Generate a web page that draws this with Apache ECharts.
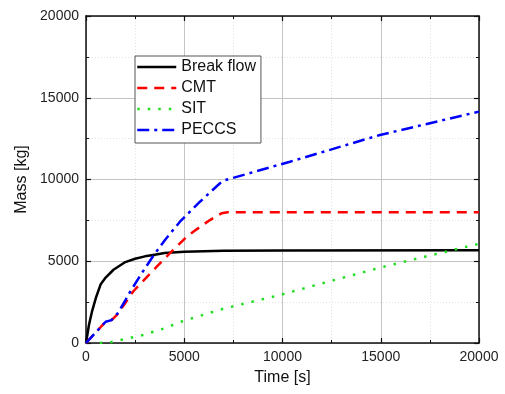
<!DOCTYPE html>
<html>
<head>
<meta charset="utf-8">
<script src="https://cdn.jsdelivr.net/npm/echarts@6/dist/echarts.min.js"></script>
<style>
  html, body { margin: 0; padding: 0; background: #fff; }
  #chart { width: 505px; height: 394px; }
</style>
</head>
<body>
<div id="chart"></div>
<script>
// Mass delivered by each path over time: [time (s), mass (kg)]
const breakFlow = [
  [0, 0], [150, 1100], [300, 1900], [500, 2750], [750, 3600], [1000, 4000],
  [1400, 4480], [2000, 4950], [2500, 5150], [3000, 5300], [3500, 5400],
  [4000, 5500], [5000, 5580], [7000, 5640], [10000, 5660], [20000, 5670]
];
const cmt = [
  [0, 0], [500, 650], [1000, 1300], [1300, 1400], [1600, 1750], [2000, 2450],
  [2400, 3150], [3600, 4670], [4440, 5690], [5125, 6500], [5460, 6810],
  [6310, 7520], [6900, 7930], [7200, 8000], [20000, 8000]
];
const sit = [
  [700, 0], [1300, 60], [2000, 250], [2900, 490], [4000, 900], [4950, 1350],
  [7000, 2100], [9870, 2935], [12330, 3750], [15000, 4620], [17500, 5350], [20000, 6070]
];
const peccs = [
  [0, 0], [500, 650], [1000, 1300], [1300, 1400], [1600, 1800], [2000, 2600],
  [2200, 3040], [2800, 4200], [3450, 5380], [4020, 6300], [4780, 7420],
  [5800, 8640], [6820, 9770], [7050, 9950], [10380, 11090], [14960, 12720], [20000, 14150]
];
const seriesNames = ['Break flow', 'CMT', 'SIT', 'PECCS'];
const xTicks = { min: 0, max: 20000, interval: 5000 };
const yTicks = { min: 0, max: 20000, interval: 5000 };

const font = 'Liberation Sans, Arial, sans-serif';

function mainAxis(t, name, extra) {
  return Object.assign({
    type: 'value', min: t.min, max: t.max, interval: t.interval,
    name: name, nameLocation: 'middle',
    nameTextStyle: { fontFamily: font, fontSize: 16, color: '#111' },
    axisLine: { show: true, onZero: false, lineStyle: { color: '#111', width: 1.5 } },
    axisTick: { show: true, inside: true, length: 5, lineStyle: { color: '#111', width: 1.2 } },
    minorTick: { show: true, splitNumber: 2, length: 3, lineStyle: { color: '#111', width: 1 } },
    axisLabel: { fontFamily: font, fontSize: 14, color: '#222', margin: 7,
                 formatter: function (v) { return String(v); } },
    splitLine: { show: true, lineStyle: { color: '#c4c4c4', width: 1 } },
    minorSplitLine: { show: true, lineStyle: { color: '#e2e2e2', width: 1, type: [1, 2] } }
  }, extra);
}
function mirrorAxis(t, position) {
  return {
    type: 'value', min: t.min, max: t.max, interval: t.interval, position: position,
    axisLine: { show: true, onZero: false, lineStyle: { color: '#111', width: 1.5 } },
    axisTick: { show: true, inside: true, length: 5, lineStyle: { color: '#111', width: 1.2 } },
    minorTick: { show: true, splitNumber: 2, length: 3, lineStyle: { color: '#111', width: 1 } },
    axisLabel: { show: false },
    splitLine: { show: false }
  };
}

function lineSeries(name, data, color, type) {
  return {
    name: name, type: 'line', data: data, showSymbol: false, symbol: 'none', symbolSize: 0,
    smooth: false, xAxisIndex: 0, yAxisIndex: 0,
    lineStyle: { color: color, width: 2.5, type: type },
    itemStyle: { color: color }
  };
}

const chart = echarts.init(document.getElementById('chart'), null, { renderer: 'canvas' });
chart.setOption({
  backgroundColor: '#fff',
  animation: false,
  grid: { left: 86, right: 26, top: 16, bottom: 51 },
  xAxis: [
    mainAxis(xTicks, 'Time [s]', { position: 'bottom', nameGap: 27 }),
    mirrorAxis(xTicks, 'top')
  ],
  yAxis: [
    mainAxis(yTicks, 'Mass [kg]', { position: 'left', nameGap: 47, nameRotate: 90 }),
    mirrorAxis(yTicks, 'right')
  ],
  legend: {
    data: seriesNames,
    orient: 'vertical', left: 135, top: 56,
    padding: [3, 5, 5, 1],
    itemWidth: 39, itemHeight: 16, itemGap: 5,
    backgroundColor: '#fff', borderColor: '#555', borderWidth: 1,
    itemStyle: { opacity: 0 },
    lineStyle: { width: 2.5 },
    textStyle: { fontFamily: font, fontSize: 16, color: '#111', lineHeight: 16 }
  },
  series: [
    lineSeries(seriesNames[0], breakFlow, '#000000', 'solid'),
    lineSeries(seriesNames[1], cmt, '#ff0000', [10, 7]),
    lineSeries(seriesNames[2], sit, '#22dd22', [2.5, 8]),
    lineSeries(seriesNames[3], peccs, '#0000ff', [12, 5, 3, 5])
  ]
});
</script>
</body>
</html>
